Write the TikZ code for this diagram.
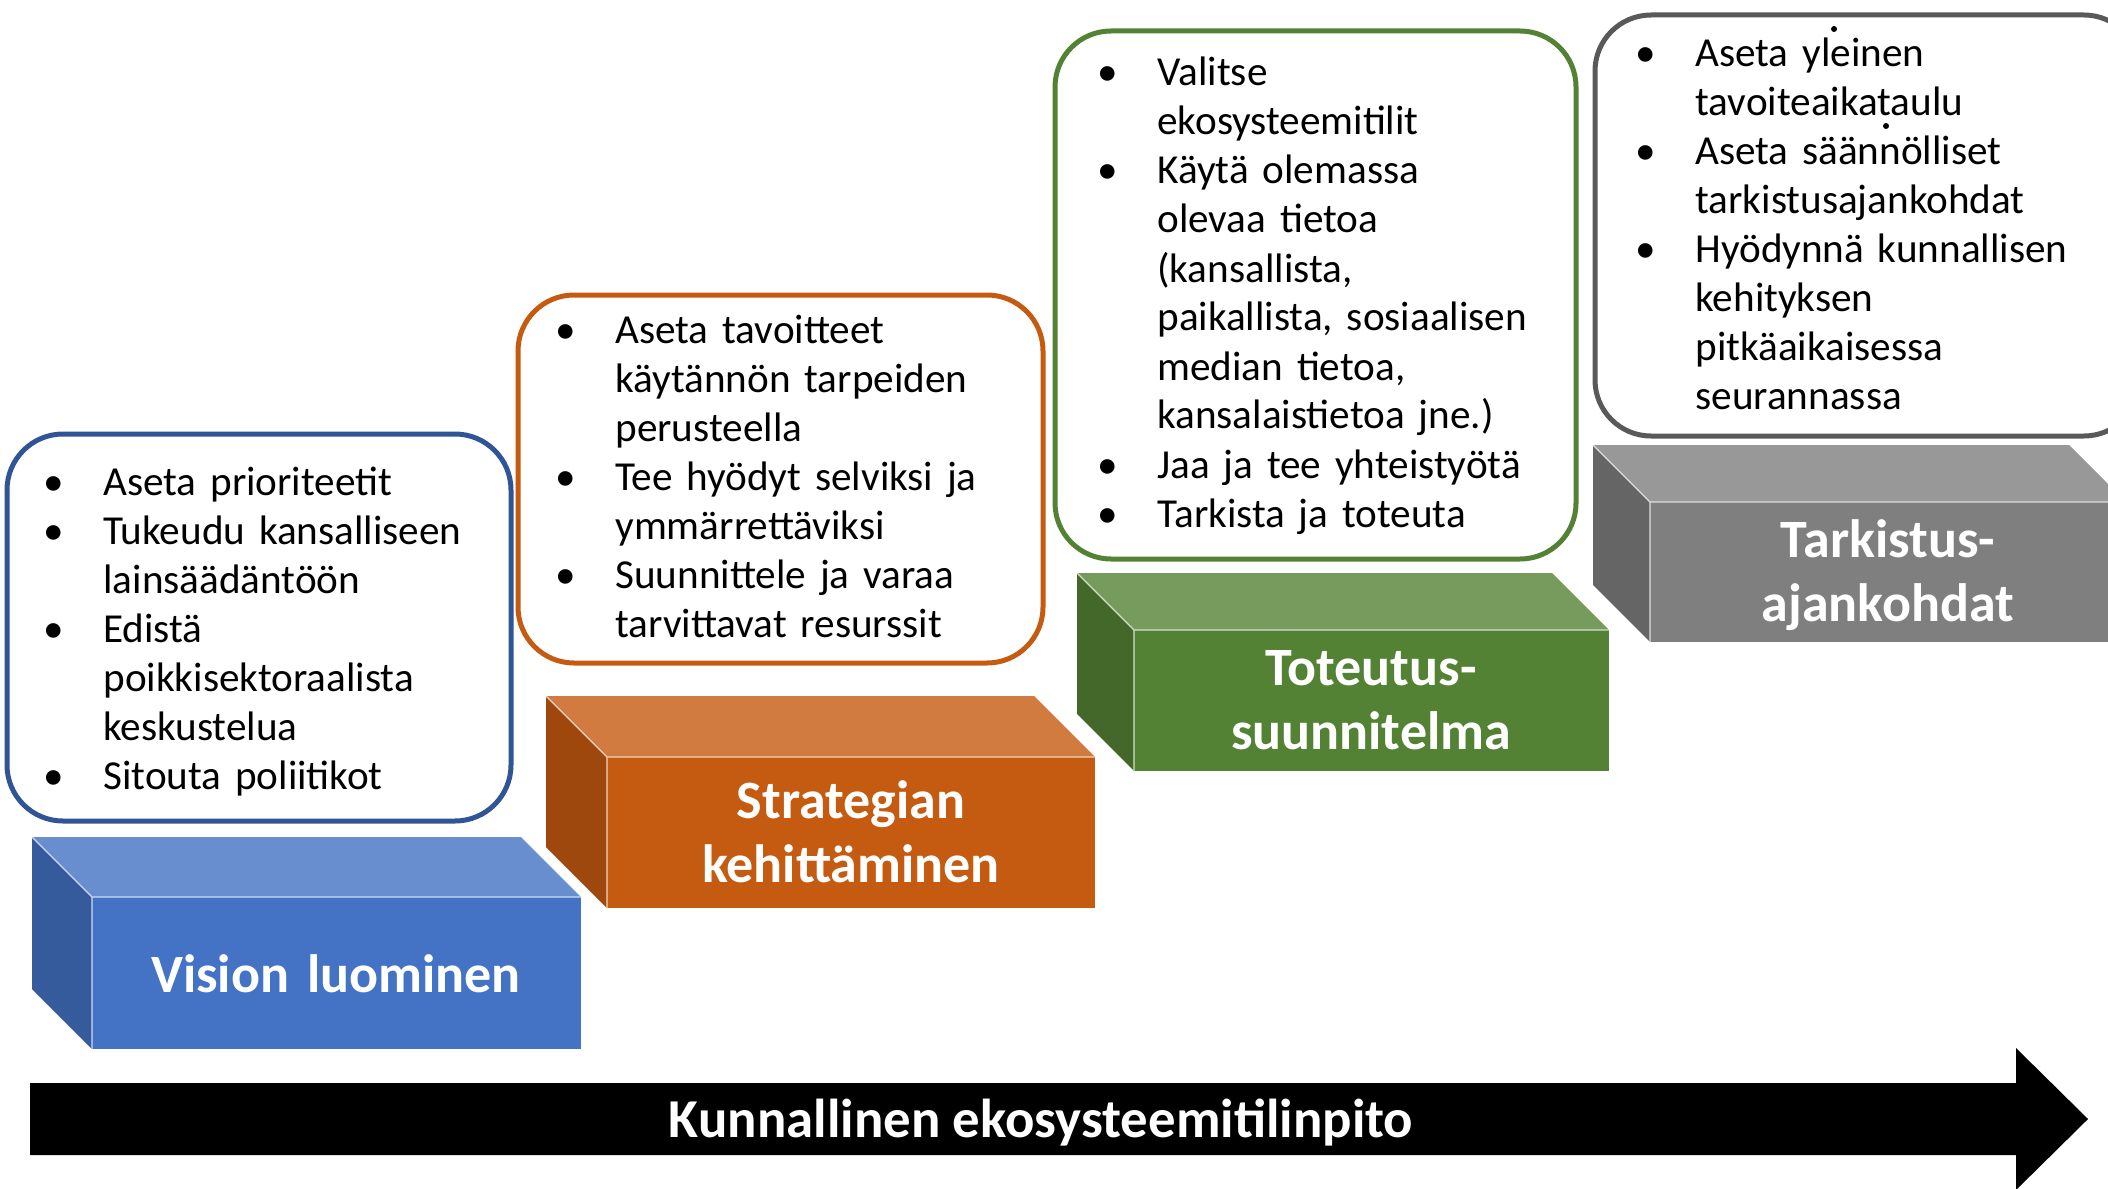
\documentclass[tikz,border=0pt]{standalone}
\usepackage{fontspec}
\setmainfont{Carlito}
\definecolor{sininen}{HTML}{4472C4}
\definecolor{oranssi}{HTML}{C55A11}
\definecolor{vihrea}{HTML}{548235}
\definecolor{harmaa}{HTML}{7F7F7F}
\definecolor{kehyssininen}{HTML}{2F5597}
\definecolor{kehysharmaa}{HTML}{595959}
\newcommand{\kohta}{\makebox[30pt][l]{\textbullet}}
\newcommand{\jatko}{\hspace*{30pt}}
\begin{document}
\begin{tikzpicture}[x=0.5pt, y=-0.5pt,
    lista/.style={anchor=base west, inner sep=0pt, text width=330pt, align=left, font=\fontsize{20.6}{24.5}\selectfont},
    otsikko/.style={anchor=base, inner sep=0pt, text width=230pt, align=center, text=white, font=\fontsize{27}{32}\selectfont\bfseries},
    kehys/.style={line width=2.5pt, rounded corners=28pt, fill=white}]
    \clip (0,0) rectangle (2108,1188);
    \draw[kehys, draw=kehyssininen] (7,434) rectangle (511,821);
    \draw[kehys, draw=oranssi] (518,295) rectangle (1043,663);
    \draw[kehys, draw=vihrea] (1055,31) rectangle (1576,559);
    \draw[kehys, draw=kehysharmaa] (1595,15) rectangle (2140,436);
    \node[lista] (visiolista) at (43,495) {\kohta Aseta prioriteetit\\
        \kohta Tukeudu kansalliseen\\ \jatko lainsäädäntöön\\
        \kohta Edistä\\ \jatko poikkisektoraalista\\ \jatko keskustelua\\
        \kohta Sitouta poliitikot};
    \node[lista] (strategialista) at (555,343) {\kohta Aseta tavoitteet\\
        \jatko käytännön tarpeiden\\ \jatko perusteella\\
        \kohta Tee hyödyt selviksi ja\\ \jatko ymmärrettäviksi\\
        \kohta Suunnittele ja varaa\\ \jatko tarvittavat resurssit};
    \node[lista] (toteutuslista) at (1097,86) {\kohta Valitse\\ \jatko ekosysteemitilit\\
        \kohta Käytä olemassa\\ \jatko olevaa tietoa\\ \jatko (kansallista,\\
        \jatko paikallista, sosiaalisen\\ \jatko median tietoa,\\ \jatko kansalaistietoa jne.)\\
        \kohta Jaa ja tee yhteistyötä\\
        \kohta Tarkista ja toteuta};
    \node[lista] (tarkistuslista) at (1635,67) {\kohta Aseta yleinen\\ \jatko tavoiteaikataulu\\
        \kohta Aseta säännölliset\\ \jatko tarkistusajankohdat\\
        \kohta Hyödynnä kunnallisen\\ \jatko kehityksen\\ \jatko pitkäaikaisessa\\ \jatko seurannassa};
    \fill (1834,29) circle (1.5pt);
    \fill (1886,126) circle (1.5pt);
    \foreach \xa/\ya/\xb/\yb/\d/\vari in {92/897/581/1049/60/sininen, 607/757/1095/908/61/oranssi,
        1134/630/1609/771/57/vihrea, 1650/502/2126/642/57/harmaa} {
        \fill[\vari!80!white] (\xa-\d,\ya-\d) -- (\xb-\d,\ya-\d) -- (\xb,\ya) -- (\xa,\ya) -- cycle;
        \fill[\vari!80!black] (\xa-\d,\ya-\d) -- (\xa,\ya) -- (\xa,\yb) -- (\xa-\d,\yb-\d) -- cycle;
        \fill[\vari] (\xa,\ya) rectangle (\xb,\yb);
        \draw[white!75!\vari, line width=0.6pt] (\xa-\d,\ya-\d) -- (\xa,\ya) -- (\xb,\ya) (\xa,\ya) -- (\xa,\yb);
    }
    \node[otsikko] (visio) at (336,992) {Vision luominen};
    \node[otsikko] (strategia) at (851,818) {Strategian\\kehittäminen};
    \node[otsikko] (toteutus) at (1371,685) {Toteutus-\\suunnitelma};
    \node[otsikko] (tarkistus) at (1888,557) {Tarkistus-\\ajankohdat};
    \fill (30,1083) -- (2016,1083) -- (2016,1048) -- (2088,1119) -- (2016,1190) -- (2016,1155) -- (30,1155) -- cycle;
    \node[anchor=base, inner sep=0pt, text=white, font=\fontsize{27.4}{32}\selectfont\bfseries] (kunnallinen) at (1041,1137) {Kunnallinen ekosysteemitilinpito};
\end{tikzpicture}
\end{document}
